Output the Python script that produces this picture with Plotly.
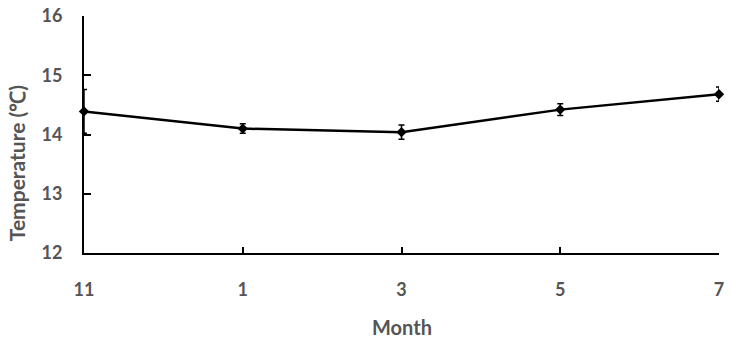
import plotly.graph_objects as go

months = ["11", "1", "3", "5", "7"]
temps = [14.39, 14.10, 14.04, 14.42, 14.68]
errs = [0.37, 0.08, 0.12, 0.10, 0.12]
yticks = [12, 13, 14, 15, 16]

xpos = list(range(len(months)))
font_c = "#555555"
fam = "Lato, 'Open Sans', sans-serif"

fig = go.Figure(go.Scatter(
    x=xpos, y=temps, mode="lines+markers",
    line=dict(color="black", width=2.5),
    marker=dict(symbol="diamond", size=8, color="black"),
    error_y=dict(type="data", array=errs, visible=True, color="black", thickness=1.5, width=3),
    cliponaxis=False, showlegend=False,
))
fig.update_layout(
    width=730, height=341,
    margin=dict(l=84, r=11, t=16, b=88),
    plot_bgcolor="white", paper_bgcolor="white",
    font=dict(family=fam, size=16, color=font_c),
)
fig.update_xaxes(
    range=[0, 4], tickvals=xpos, ticktext=months, automargin=False,
    showline=True, linecolor="black", linewidth=2,
    ticks="inside", ticklen=6, tickwidth=1.5, tickcolor="black",
    showgrid=False, zeroline=False, ticklabelstandoff=19,
    tickfont=dict(family=fam, size=18, color=font_c, weight="bold"),
)
fig.update_yaxes(
    range=[12, 16], tickvals=yticks, automargin=False,
    showline=True, linecolor="black", linewidth=2,
    ticks="inside", ticklen=7, tickwidth=1.5, tickcolor="black",
    showgrid=False, zeroline=False, ticklabelstandoff=16,
    tickfont=dict(family=fam, size=18, color=font_c, weight="bold"),
)
fig.add_annotation(
    text="<b>Temperature (℃)</b>", xref="paper", yref="paper",
    x=-0.128, y=0.38, xanchor="left", yanchor="middle", textangle=-90,
    showarrow=False, font=dict(family=fam, size=21, color=font_c),
)
fig.add_annotation(
    text="<b>Month</b>", xref="paper", yref="paper",
    x=0.5, y=-0.37, xanchor="center", yanchor="bottom",
    showarrow=False, font=dict(family=fam, size=20, color=font_c),
)
fig.write_html("out.html")
